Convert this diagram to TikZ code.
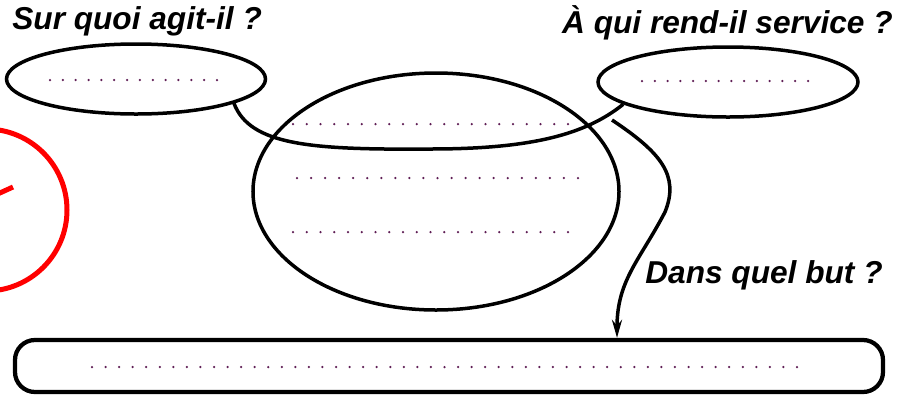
\documentclass[tikz,border=0pt]{standalone}
\usepackage{fontspec}
\newfontfamily\qfont{Liberation Sans}
\usepackage{tikz}
\usetikzlibrary{shapes.geometric}
\usetikzlibrary{arrows.meta}
\definecolor{dotc}{RGB}{95,30,85}
\tikzstyle{horn}=[draw,ellipse,line width=0.7mm,inner sep=0]
\tikzstyle{goal}=[draw,rectangle,rounded corners=4mm,line width=0.85mm,inner sep=0]
\tikzstyle{question}=[inner sep=0,font=\qfont\bfseries\itshape\fontsize{18}{21}\selectfont]
\tikzstyle{hornline}=[draw,line width=0.7mm,black]
\tikzstyle{redmark}=[draw=red,circle,line width=1mm,inner sep=0]
% row of dots: x1, x2, y, number of gaps
\newcommand{\dotrow}[4]{%
  \pgfmathsetmacro{\dgap}{(#2-#1)/#4}%
  \foreach \k in {0,...,#4}{\fill[dotc] ({#1+\k*\dgap},#3) circle (0.25mm);}}

\begin{document}
\begin{tikzpicture}[x=0.2mm,y=-0.2mm]

	\clip (0,0) rectangle (910,394);

	\node[question,anchor=base west] (qobj) at (12,29) {Sur quoi agit-il ?};
	\node[question,anchor=base east] (qsrv) at (893,33) {À qui rend-il service ?};

	\node[horn,minimum width=51.8mm,minimum height=14mm] (obj) at (136,79) {};
	\node[horn,minimum width=52mm,minimum height=14mm] (srv) at (728,82) {};
	\node[horn,minimum width=73.2mm,minimum height=47.4mm] (prod) at (436,191.5) {};

	\node[goal,minimum width=173.6mm,minimum height=10.4mm] (but) at (449,366) {};

	\dotrow{50}{217}{80}{13}
	\dotrow{642}{808}{81}{13}
	\dotrow{293}{568}{124}{20}
	\dotrow{297}{578}{178}{20}
	\dotrow{293}{568}{232}{20}
	\dotrow{92}{797}{367}{52}

% % % horns
	\coordinate (low) at (430,149);

	\path[hornline] (obj.-14) .. controls (250,145) and (310,150) .. (low)
	.. controls (530,149) and (585,135) .. (srv.-168);

% % % goal
	\coordinate (start) at (612,120);

	\path[hornline,-{Stealth[length=3.6mm,width=2mm]}] (start)
	.. controls (660,152) and (680,175) .. (665,212)
	.. controls (640,260) and (617,280) .. ([xshift=33.6mm]but.north);

	\node[question,anchor=base west] (qbut) at (645,283) {Dans quel but ?};

% % % red mark
	\node[redmark,minimum size=32.4mm] (rmark) at (-14,210) {};
	\draw[red,line width=1mm] (-20,202) -- (13,187);

\end{tikzpicture}
\end{document}
